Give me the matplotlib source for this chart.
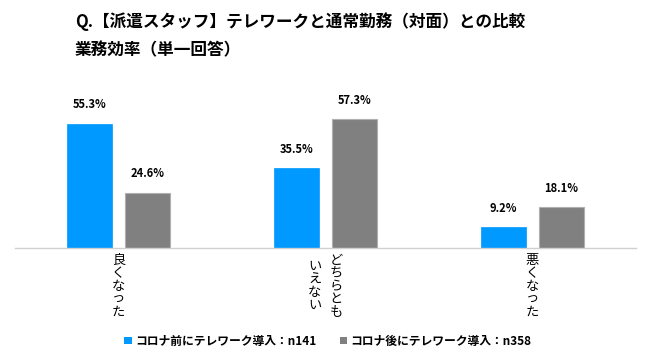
import matplotlib
matplotlib.use("Agg")
import matplotlib.pyplot as plt
from matplotlib.patches import Patch
import numpy as np

plt.rcParams['font.family'] = ['Noto Sans CJK JP', 'DejaVu Sans']

TITLE_1 = "Q.【派遣スタッフ】テレワークと通常勤務（対面）との比較"
TITLE_2 = "業務効率（単一回答）"

categories = [["良くなった"], ["どちらとも", "いえない"], ["悪くなった"]]
series_names = ["コロナ前にテレワーク導入：n141", "コロナ後にテレワーク導入：n358"]
before = [55.3, 35.5, 9.2]
after = [24.6, 57.3, 18.1]

BLUE = "#0099FF"
GRAY = "#808080"

fig = plt.figure(figsize=(6.5, 3.63), dpi=100)
ax = fig.add_axes([15 / 650, 1 - 248 / 363, 621 / 650, 160 / 363])

x = np.arange(len(categories))
w = 0.22
b1 = ax.bar(x - 0.14, before, w, color=BLUE, edgecolor=BLUE, linewidth=0.5)
b2 = ax.bar(x + 0.14, after, w, color=GRAY, edgecolor="#b0b0b0", linewidth=0.8)

for bars, vals in [(b1, before), (b2, after)]:
    for rect, v in zip(bars, vals):
        ax.annotate("%.1f%%" % v, (rect.get_x() + rect.get_width() / 2, v),
                    xytext=(0, 9), textcoords="offset points",
                    ha="center", va="bottom", fontsize=8, fontweight="bold")

ax.set_xlim(-0.5, 2.5)
ax.set_ylim(0, 160 / 2.25)
for s in ["top", "right", "left"]:
    ax.spines[s].set_visible(False)
ax.spines["bottom"].set_color("#d0d0d0")
ax.spines["bottom"].set_linewidth(1)
ax.set_xticks([])
ax.set_yticks([])

# vertical category labels, columns right to left
col_gap = 0.105
for i, cols in enumerate(categories):
    n = len(cols)
    for j, col in enumerate(cols):
        xpos = i + (n - 1) / 2 * col_gap - j * col_gap
        ax.text(xpos, -17, "\n".join(col), ha="center", va="center",
                fontsize=9.5, linespacing=1.0, transform=ax.transData,
                clip_on=False)

fig.text(75 / 650, 1 - 22 / 363, TITLE_1, fontsize=12, fontweight="bold",
         ha="left", va="center")
fig.text(75 / 650, 1 - 50 / 363, TITLE_2, fontsize=12, fontweight="bold",
         ha="left", va="center")

handles = [Patch(facecolor=BLUE), Patch(facecolor=GRAY)]
leg = fig.legend(handles, series_names, loc="center", ncol=2,
                 bbox_to_anchor=(328 / 650, 1 - 341 / 363), frameon=False,
                 handlelength=0.6, handleheight=0.6, handletextpad=0.3,
                 columnspacing=2.0, prop={"weight": "bold", "size": 8.5})

fig.savefig("out.png", dpi=100)
